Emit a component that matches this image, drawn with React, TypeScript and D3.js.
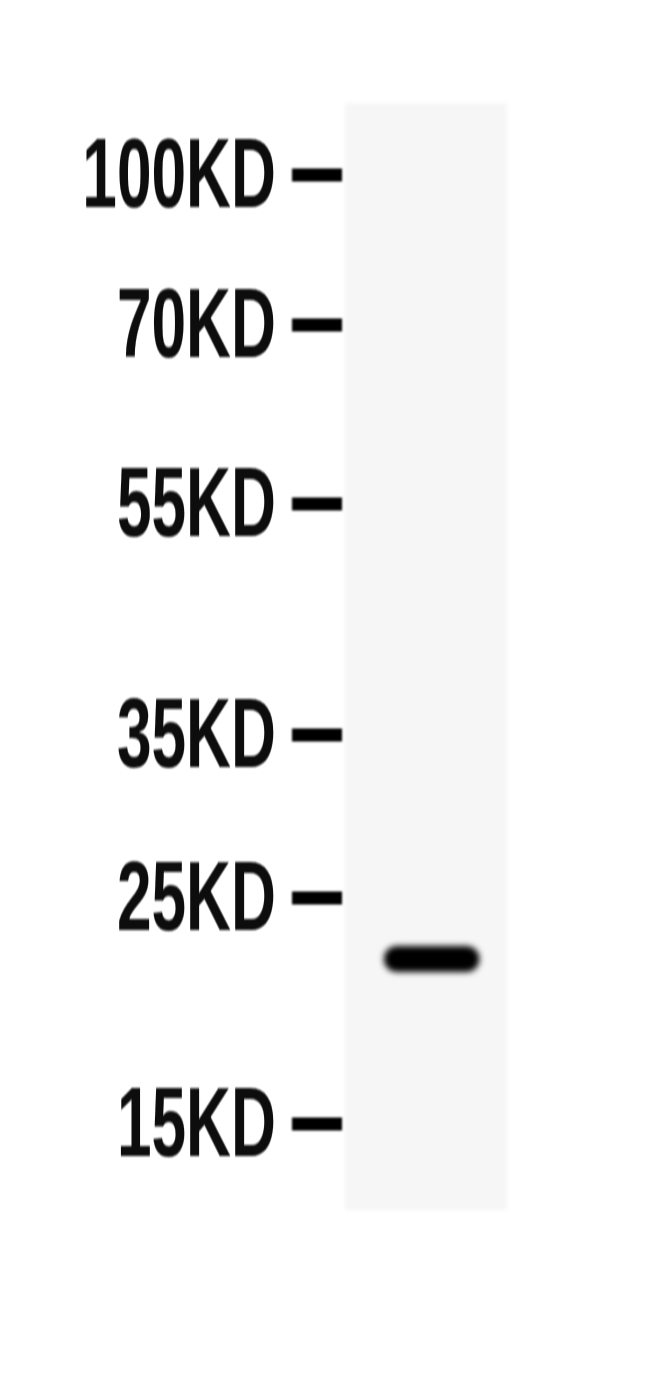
import { useEffect, useRef } from "react"
import * as d3 from "d3"

// molecular weight ladder (kDa) and its labels
const markers = [100, 70, 55, 35, 25, 15]
const markerLabels = ["100KD", "70KD", "55KD", "35KD", "25KD", "15KD"]
// detected bands in the single lane (kDa, relative intensity)
const bands = [{ kda: 22.3, intensity: 1 }]

const W = 650
const H = 1393

export default function App() {
  const ref = useRef<SVGSVGElement>(null)
  useEffect(() => {
    if (!ref.current) return
    const svg = d3.select(ref.current)
    svg.selectAll("*").remove()

    // gel calibration: migration distance for each ladder band (piecewise)
    const y = d3.scaleLinear().domain(markers).range([175, 325, 504, 735, 898, 1124])
    const lane = { x0: 345, x1: 507, y0: 103, y1: 1210 }

    const defs = svg.append("defs")
    defs.append("filter").attr("id", "soft").attr("x", "-20%").attr("y", "-50%").attr("width", "140%").attr("height", "200%")
      .append("feGaussianBlur").attr("stdDeviation", 0.9)
    defs.append("filter").attr("id", "bandBlur").attr("x", "-30%").attr("y", "-100%").attr("width", "160%").attr("height", "300%")
      .append("feGaussianBlur").attr("stdDeviation", 3)
    defs.append("filter").attr("id", "laneBlur").attr("x", "-10%").attr("y", "-5%").attr("width", "120%").attr("height", "110%")
      .append("feGaussianBlur").attr("stdDeviation", 2)

    svg.append("rect").attr("width", W).attr("height", H).attr("fill", "#ffffff")

    // lane
    svg.append("rect").attr("x", lane.x0).attr("y", lane.y0)
      .attr("width", lane.x1 - lane.x0).attr("height", lane.y1 - lane.y0)
      .attr("fill", "#f6f6f6").attr("filter", "url(#laneBlur)")

    // ladder ticks
    svg.selectAll("rect.tick").data(markers).join("rect").attr("class", "tick")
      .attr("x", 292).attr("y", d => y(d) - 6.5).attr("width", 50).attr("height", 13)
      .attr("fill", "#050505").attr("filter", "url(#soft)")

    // ladder labels (condensed bold)
    const lg = svg.append("g").attr("transform", "translate(276,0)")
    lg.selectAll("text").data(markers).join("text")
      .attr("transform", d => `translate(0,${y(d) + 32}) scale(0.635,1)`)
      .attr("text-anchor", "end")
      .style("font-family", "'Liberation Sans', Arial, sans-serif")
      .style("font-weight", "700").style("font-size", "98px").style("fill", "#0a0a0a")
      .attr("filter", "url(#soft)")
      .text((d, i) => markerLabels[i])

    // bands
    const bx = d3.scaleLinear().domain([0, 1]).range([lane.x0, lane.x1])
    svg.selectAll("rect.band").data(bands).join("rect").attr("class", "band")
      .attr("x", bx(0.24)).attr("y", d => y(d.kda) - 13)
      .attr("width", bx(0.83) - bx(0.24)).attr("height", 26).attr("rx", 13)
      .attr("fill", d => d3.interpolateGreys(0.75 + 0.25 * d.intensity))
      .attr("filter", "url(#bandBlur)")
  }, [])
  return <svg ref={ref} width={W} height={H} style={{ position: "absolute", left: 0, top: 0, display: "block" }} />
}
